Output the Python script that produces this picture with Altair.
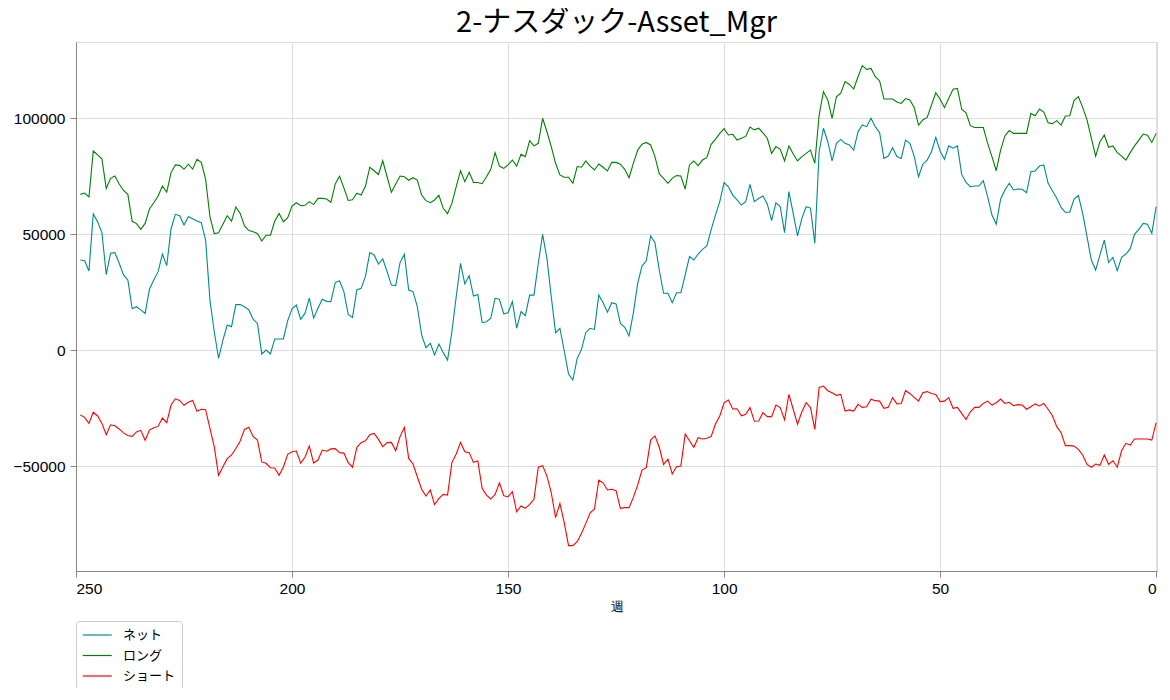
import altair as alt
import pandas as pd

# weeks back from latest (249 ... 0)
weeks = list(range(249, -1, -1))

net = [
    38900, 38600, 34200, 58800, 55400, 50700, 32700, 41800, 42100, 37500,
    32500, 30300, 17900, 18800, 17400, 15900, 26300, 30300, 33900, 41500,
    36500, 52400, 58600, 58000, 54000, 57600, 56700, 55700, 55000, 47500,
    21700, 8000, -3500, 4400, 10900, 10200, 19700, 19700, 18800, 17400,
    13400, 11600, -1600, 100, -1600, 4900, 4900, 4900, 12800, 17900,
    19500, 13400, 15900, 22500, 13900, 18100, 22000, 21100, 21000, 29200,
    30000, 25300, 15500, 14100, 26000, 26700,
    32000, 42100, 41100, 37200, 39400, 33900, 28100, 27900, 37800, 41400,
    26000, 25300, 18800, 6600, 1100, 3000, -2000, 2700, -1000, -4200,
    8000, 23100, 37500, 28600, 32200, 23400, 24100, 11900, 12300, 13800,
    22400, 22000, 15700, 16200, 21000, 9500, 16700, 14900, 23800, 23800,
    37500, 50000, 39600, 23100, 7600, 9500, -200, -10200, -12800, -3500,
    400, 7700, 9500, 9000, 23800, 20500, 16400, 20500, 20000, 11600,
    9900, 6200,
    16000, 28900, 36300, 38600, 49300, 46400, 34600, 24600, 24600, 20500,
    24800, 24800, 32500, 40400, 38900, 41500, 43500, 45000, 51900, 58300,
    64100, 72300, 70500, 66900, 64800, 62600, 64100, 71500, 64100, 65400,
    66500, 63100, 55900, 63600, 61900, 50700, 68400, 59000, 49300, 56900,
    61900, 61300, 46100, 85600, 95700, 89900, 81600, 89200, 90900, 89200,
    88500, 86300, 94200, 97100, 96400, 100000, 96400, 93800, 82700, 83700,
    87300, 83500,
    82700, 90600, 89200, 83700, 74800, 80200, 82000, 85600, 91800, 85900,
    82300, 88100, 87100, 88100, 75800, 72400, 70500, 70800, 70800, 73100,
    66200, 58300, 54400, 65100, 69100, 72000, 69100, 69500, 69400, 67900,
    77000, 77300, 79400, 79900, 72000, 68800, 65500, 61600, 59500, 59500,
    65200, 66700, 59000, 49000, 38900, 34600, 41100, 47500, 37800, 40100,
    34300, 40100, 41500, 43700, 50000, 52100, 54700, 54300, 50400, 61900,
]

long_ = [
    67200, 67800, 66100, 85900, 84200, 82500, 69700, 74100, 75100, 71700,
    68900, 67200, 55600, 54600, 52100, 54700, 60900, 63600, 66500, 70800,
    68200, 76600, 79900, 79700, 78000, 80200, 78100, 82300, 81000, 73700,
    57600, 50300, 50700, 54300, 58000, 55700, 61800, 59000, 53600, 51600,
    51100, 50400, 47100, 49600, 49600, 55600, 59000, 55400, 57200, 62200,
    63600, 62300, 62500, 64100, 62800, 65500, 65500, 65200, 63800, 71700,
    75000, 70000, 64600, 64900, 67700, 66900,
    70800, 78900, 77400, 75800, 81700, 74800, 68100, 71700, 75100, 74800,
    73300, 74400, 73400, 66900, 64500, 63600, 64800, 66800, 61200, 58900,
    63300, 70500, 77400, 72700, 76700, 72300, 72300, 71800, 74800, 78000,
    85200, 79400, 78400, 79900, 82000, 79400, 84500, 83500, 90400, 88100,
    89200, 100000, 94200, 87800, 80600, 75600, 74600, 74600, 72000, 79200,
    78900, 81600, 79400, 77700, 80300, 78900, 77300, 81000, 81000, 80200,
    78000, 74400,
    80600, 86300, 88800, 89600, 88500, 83500, 76000, 74100, 72000, 74100,
    75300, 75100, 69500, 79900, 81600, 79600, 82000, 83000, 88800, 90900,
    93500, 95500, 92800, 93100, 90600, 91400, 92200, 96200, 95000, 95700,
    93700, 91400, 84900, 87800, 86600, 81600, 88100, 84600, 81600, 83500,
    84900, 86300, 80600, 101400, 111500, 107900, 100000, 109300, 110800, 115800,
    114600, 112600, 117900, 122700, 121100, 121500, 117900, 116100, 108300, 108300,
    108300, 107000,
    106400, 108500, 107900, 104700, 97100, 99300, 100400, 105700, 111000, 108200,
    104600, 108600, 112500, 112900, 103900, 102400, 96800, 96000, 96000, 96000,
    89200, 83500, 77400, 86300, 92400, 94700, 93500, 93500, 93500, 93500,
    102100, 101100, 104000, 102700, 98100, 97700, 99000, 97100, 101000, 101100,
    107600, 109300, 104700, 99300, 91400, 83700, 89900, 92800, 87500, 88100,
    85200, 83700, 82000, 85200, 88100, 90600, 93200, 92700, 89600, 93500,
]

short = [
    -27900, -28900, -31500, -26700, -28300, -31500, -36400, -32100, -32500, -33900,
    -35600, -36700, -37100, -35200, -34500, -38800, -34400, -33400, -32800, -29200,
    -31200, -23600, -20900, -21600, -23700, -22400, -21600, -26300, -25400, -25600,
    -33600, -41500, -53900, -50200, -46700, -45100, -42300, -39100, -34100, -33200,
    -37100, -38700, -48100, -48700, -50600, -50700, -53900, -50300, -44800, -43700,
    -43400, -48600, -46100, -41300, -48600, -47300, -43000, -43500, -42500, -42400,
    -44100, -44300, -48400, -50400, -41800, -39800,
    -39000, -36400, -35800, -38400, -41500, -39800, -39700, -43300, -37200, -33200,
    -46600, -49000, -54500, -59900, -62800, -60200, -66500, -63800, -62100, -62400,
    -48400, -44700, -39700, -43700, -44100, -48300, -47700, -59500, -62400, -64100,
    -62100, -57100, -62700, -63100, -60900, -69600, -67100, -68100, -66400, -64200,
    -50400, -49700, -54200, -61400, -72100, -66000, -74300, -84200, -84200, -82500,
    -78900, -74600, -70000, -68400, -56000, -57100, -60200, -59900, -60500, -68100,
    -67800, -67800,
    -63400, -58100, -51600, -50600, -38700, -36900, -41800, -49200, -46900, -53300,
    -50200, -49900, -36100, -39000, -41800, -37700, -38200, -37900, -37200, -31800,
    -28300, -22600, -21400, -25300, -25200, -28200, -27600, -24700, -30600, -30500,
    -26900, -28600, -28600, -23600, -24700, -30000, -19000, -25400, -31800, -26500,
    -22600, -24700, -34100, -16000, -15400, -17400, -18300, -19400, -19000, -26200,
    -25700, -26200, -23300, -24600, -24300, -21100, -21700, -21900, -25000, -24600,
    -20400, -23100,
    -22900, -17400, -18600, -20300, -21900, -18300, -17800, -18600, -19000, -22100,
    -21900, -20400, -25000, -24600, -27200, -29800, -26500, -24600, -24600, -22900,
    -21900, -23600, -22600, -21000, -22900, -22400, -23900, -23400, -23600, -25400,
    -24300, -23100, -24000, -22900, -25400, -28200, -32900, -35500, -41100, -41100,
    -41300, -42700, -45100, -49200, -50400, -49000, -49600, -45100, -49200, -47600,
    -50400, -43300, -40100, -40800, -38200, -38200, -38200, -38200, -38700, -31200,
]

series_names = ["ネット", "ロング", "ショート"]
series_colors = ["#008b8b", "#008000", "#ff0000"]
x_ticks = [250, 200, 150, 100, 50, 0]
y_ticks = [-50000, 0, 50000, 100000]

rows = []
for name, vals in zip(series_names, [net, long_, short]):
    for w, v in zip(weeks, vals):
        rows.append({"週": w, "値": v, "系列": name})
df = pd.DataFrame(rows)

FONT = "Noto Sans CJK JP"

chart = alt.Chart(df).mark_line(strokeWidth=1.1).encode(
    x=alt.X(
        "週:Q",
        title="週",
        scale=alt.Scale(domain=[250, -0.2], nice=False, zero=False),
        axis=alt.Axis(values=x_ticks, format="d", grid=True, tickSize=6,
                      labelPadding=4, titlePadding=4, labelFontSize=15.5,
                      titleFontSize=13, titleFontWeight="normal"),
    ),
    y=alt.Y(
        "値:Q",
        title=None,
        scale=alt.Scale(domain=[-95120, 132880], nice=False, zero=False),
        axis=alt.Axis(values=y_ticks, format="d", grid=True, tickSize=6,
                      labelPadding=5, labelFontSize=15.5),
    ),
    color=alt.Color(
        "系列:N",
        scale=alt.Scale(domain=series_names, range=series_colors),
        legend=alt.Legend(
            title=None, orient="none", legendX=0, legendY=579,
            symbolType="M-1,0L3,0", symbolSize=210, symbolStrokeWidth=1.2,
            labelOffset=25, labelFontSize=13, labelFont=FONT, labelColor="black",
            rowPadding=5.5, padding=6, strokeColor="#cccccc", cornerRadius=3,
            fillColor="white",
        ),
    ),
    detail="系列:N",
).properties(
    width=1081,
    height=529,
    title=alt.TitleParams(
        "2-ナスダック-Asset_Mgr", fontSize=29, font=FONT, fontWeight="normal",
        anchor="middle", frame="group", offset=-19, baseline="alphabetic",
        color="black",
    ),
    autosize=alt.AutoSizeParams(type="none"),
    padding={"left": 68, "top": 34, "right": 5, "bottom": 117},
).configure_axis(
    labelFont=FONT, titleFont=FONT, labelColor="black", titleColor="black",
    domainColor="black", domainWidth=1, tickColor="black", tickWidth=1,
    gridColor="#a8a8a8", gridWidth=1,
).configure_view(stroke="black", strokeWidth=1.4).configure(background="white")

chart.save("out.html", embed_options={"renderer": "svg", "actions": False})
